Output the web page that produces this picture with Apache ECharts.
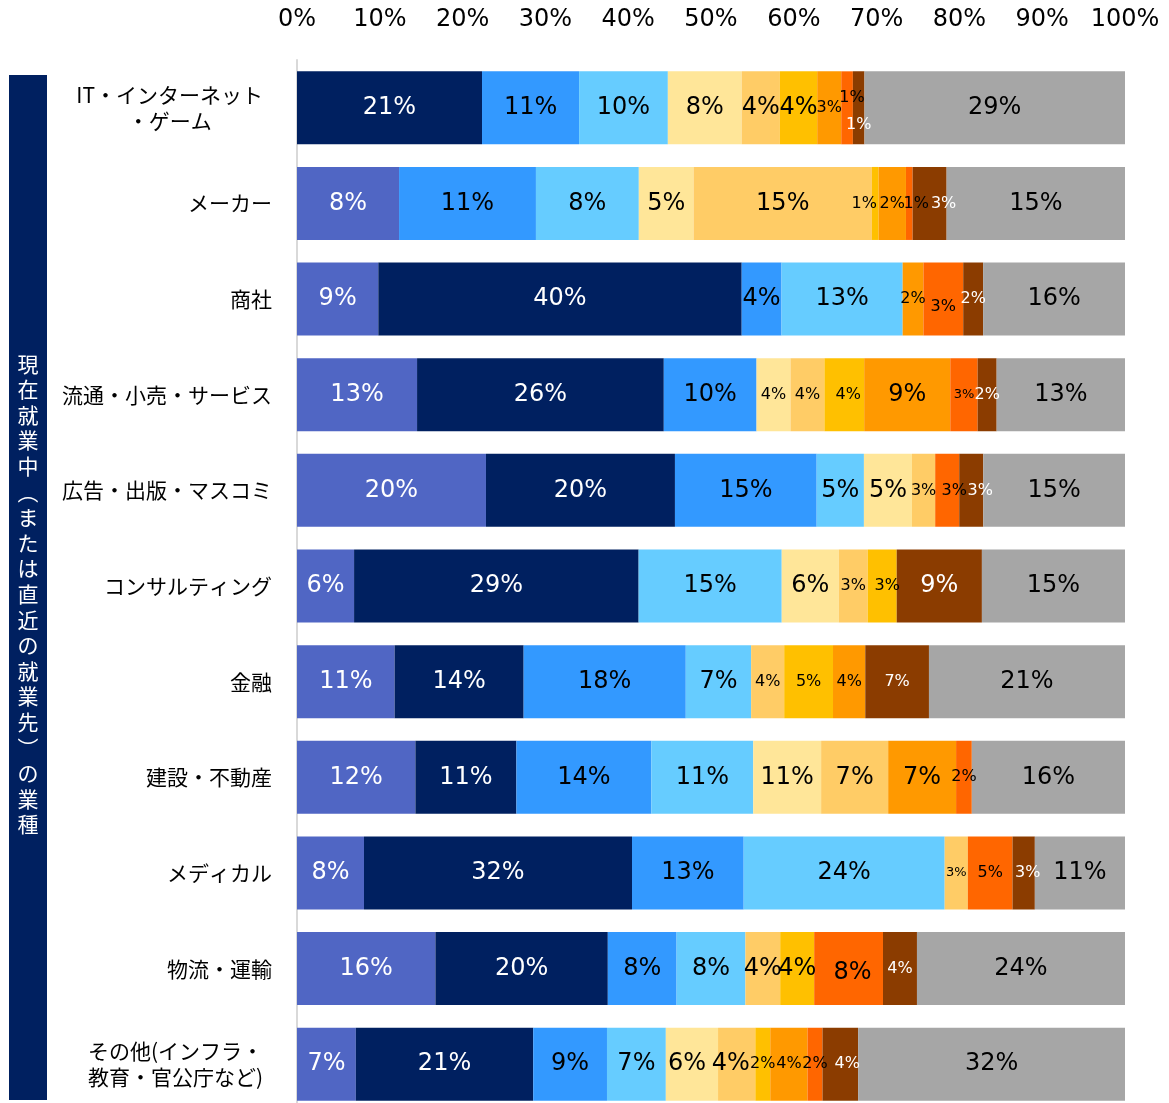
<!DOCTYPE html>
<html><head><meta charset="utf-8">
<script src="https://cdn.jsdelivr.net/npm/echarts@6/dist/echarts.min.js"></script>
<style>html,body{margin:0;padding:0;background:#fff;overflow:hidden}#c{width:1169px;height:1125px}</style>
</head><body><div id="c"></div>
<script>
// ---- data ----
const categories = ['IT・インターネット\n・ゲーム','メーカー','商社','流通・小売・サービス','広告・出版・マスコミ','コンサルティング','金融','建設・不動産','メディカル','物流・運輸','その他(インフラ・\n教育・官公庁など)'];
const xTickValues = [0,10,20,30,40,50,60,70,80,90,100];
const axisTitle = '現在就業中（または直近の就業先）の業種';

// bar lengths (share of each 100% bar)
const shareA = [0, 12.3, 9.8, 14.5, 22.8, 6.9, 11.8, 14.3, 8.1, 16.7, 7.1];
const shareB = [22.3, 0, 43.8, 29.8, 22.8, 34.4, 15.6, 12.2, 32.4, 20.8, 21.4];
const shareC = [11.7, 16.5, 4.8, 11.2, 17.1, 0, 19.6, 16.3, 13.5, 8.3, 8.9];
const shareD = [10.7, 12.4, 14.6, 0, 5.7, 17.3, 7.9, 12.3, 24.3, 8.3, 7.1];
const shareE = [8.9, 6.6, 0, 4.1, 5.8, 6.9, 0, 8.2, 0, 0, 6.3];
const shareF = [4.6, 21.5, 0, 4.1, 2.8, 3.5, 4.0, 8.1, 2.8, 4.2, 4.5];
const shareG = [4.5, 0.8, 0, 4.8, 0, 3.5, 5.9, 0, 0, 4.1, 1.8];
const shareH = [2.9, 3.3, 2.5, 10.4, 0, 0, 3.9, 8.2, 0, 0, 4.5];
const shareI = [1.4, 0.8, 4.8, 3.3, 2.9, 0, 0, 1.9, 5.4, 8.3, 1.8];
const shareJ = [1.4, 4.1, 2.4, 2.3, 2.9, 10.3, 7.7, 0, 2.7, 4.1, 4.3];
const shareK = [31.4, 21.5, 17.1, 15.5, 17.1, 17.3, 23.7, 18.5, 10.9, 25.1, 32.2];

// printed percentages (data labels)
const pctA = [null, 8, 9, 13, 20, 6, 11, 12, 8, 16, 7];
const pctB = [21, null, 40, 26, 20, 29, 14, 11, 32, 20, 21];
const pctC = [11, 11, 4, 10, 15, null, 18, 14, 13, 8, 9];
const pctD = [10, 8, 13, null, 5, 15, 7, 11, 24, 8, 7];
const pctE = [8, 5, null, 4, 5, 6, null, 11, null, null, 6];
const pctF = [4, 15, null, 4, 3, 3, 4, 7, 3, 4, 4];
const pctG = [4, 1, null, 4, null, 3, 5, null, null, 4, 2];
const pctH = [3, 2, 2, 9, null, null, 4, 7, null, null, 4];
const pctI = [1, 1, 3, 3, 3, null, null, 2, 5, 8, 2];
const pctJ = [1, 3, 2, 2, 3, 9, 7, null, 3, 4, 4];
const pctK = [29, 15, 16, 13, 15, 15, 21, 16, 11, 24, 32];

// ---- styles ----
const colors = ['#5066C4','#002060','#3399FF','#66CCFF','#FFE699','#FFCC66','#FFC000','#FF9900','#FF6600','#8B3C00','#A6A6A6'];
const whiteLabel = [true, true, false, false, false, false, false, false, false, true, false];
const smallLabels = new Set(['0:7','0:8','0:9','1:6','1:7','1:8','1:9','2:7','2:8','2:9','3:4','3:5','3:6','3:9','4:5','4:8','4:9','5:5','5:6','6:5','6:6','6:7','6:9','7:8','8:8','8:9','9:9','10:6','10:7','10:8','10:9']);
const tinyLabels = new Set(['3:8','8:5']);
const labelShift = {'0:8':[5,-10],'0:9':[0,17],'1:6':[-11,0],'1:8':[7,0],'1:9':[14,0],'2:8':[0,8],'3:6':[4,0],'4:8':[7,0],'4:9':[9,0],'5:6':[5,0],'8:9':[4,0],'9:8':[4,4],'10:4':[-5,0],'10:5':[-6,0],'10:9':[7,0]};

const shares = [shareA, shareB, shareC, shareD, shareE, shareF, shareG, shareH, shareI, shareJ, shareK];
const pcts = [pctA, pctB, pctC, pctD, pctE, pctF, pctG, pctH, pctI, pctJ, pctK];
const rowSum = categories.map((_, r) => shares.reduce((s, arr) => s + arr[r], 0));

const numFont = 'DejaVu Sans';
const jpFont = '"Noto Sans CJK JP"';

const series = shares.map((arr, s) => ({
  name: '系列' + (s + 1),
  type: 'bar',
  stack: 'total',
  barWidth: 73,
  itemStyle: { color: colors[s] },
  emphasis: { disabled: true },
  data: arr.map((v, r) => {
    const key = r + ':' + s;
    const p = pcts[s][r];
    const size = tinyLabels.has(key) ? 13 : (smallLabels.has(key) ? 16 : 24);
    return {
      value: v / rowSum[r] * 100,
      label: {
        show: p !== null,
        position: 'inside',
        formatter: p === null ? '' : p + '%',
        color: whiteLabel[s] ? '#ffffff' : '#000000',
        fontSize: size,
        fontFamily: numFont,
        offset: labelShift[key] || [0, 0]
      }
    };
  })
}));

const chart = echarts.init(document.getElementById('c'), null, { renderer: 'canvas' });
chart.setOption({
  animation: false,
  backgroundColor: '#ffffff',
  grid: { left: 297, right: 44, top: 60, height: 1052, containLabel: false, outerBoundsMode: 'none' },
  xAxis: {
    type: 'value', position: 'top', min: xTickValues[0], max: xTickValues[xTickValues.length - 1],
    interval: xTickValues[1] - xTickValues[0],
    axisLine: { show: false }, axisTick: { show: false }, splitLine: { show: false },
    axisLabel: { formatter: '{value}%', fontSize: 24, fontFamily: numFont, color: '#000', margin: 28 }
  },
  yAxis: {
    type: 'category', inverse: true, data: categories,
    axisLine: { show: true, lineStyle: { color: '#D9D9D9', width: 2 } },
    axisTick: { show: false },
    axisLabel: {
      margin: 25, align: 'right', color: '#000',
      formatter: v => {
        const lines = v.split('\n');
        const st = lines.length > 1 ? 'm' : 'c';
        return lines.map(s => '{' + st + '|' + s + '}').join('\n');
      },
      rich: {
        c: { align: 'center', fontSize: 21, fontFamily: jpFont, lineHeight: 26, color: '#000' },
        m: { align: 'center', fontSize: 21, fontFamily: jpFont, lineHeight: 26, color: '#000', padding: [0, 9, 0, 0] }
      }
    }
  },
  graphic: [
    { type: 'rect', left: 9, top: 75, shape: { width: 38, height: 1025 }, style: { fill: '#002060' }, silent: true },
    { type: 'text', x: 28, y: 594, silent: true,
      style: {
        text: axisTitle.replace('（', '︵').replace('）', '︶').split('').join('\n'),
        fill: '#ffffff', font: '21px ' + jpFont, lineHeight: 25.6, align: 'center', verticalAlign: 'middle'
      } }
  ],
  series: series
});
</script></body></html>
